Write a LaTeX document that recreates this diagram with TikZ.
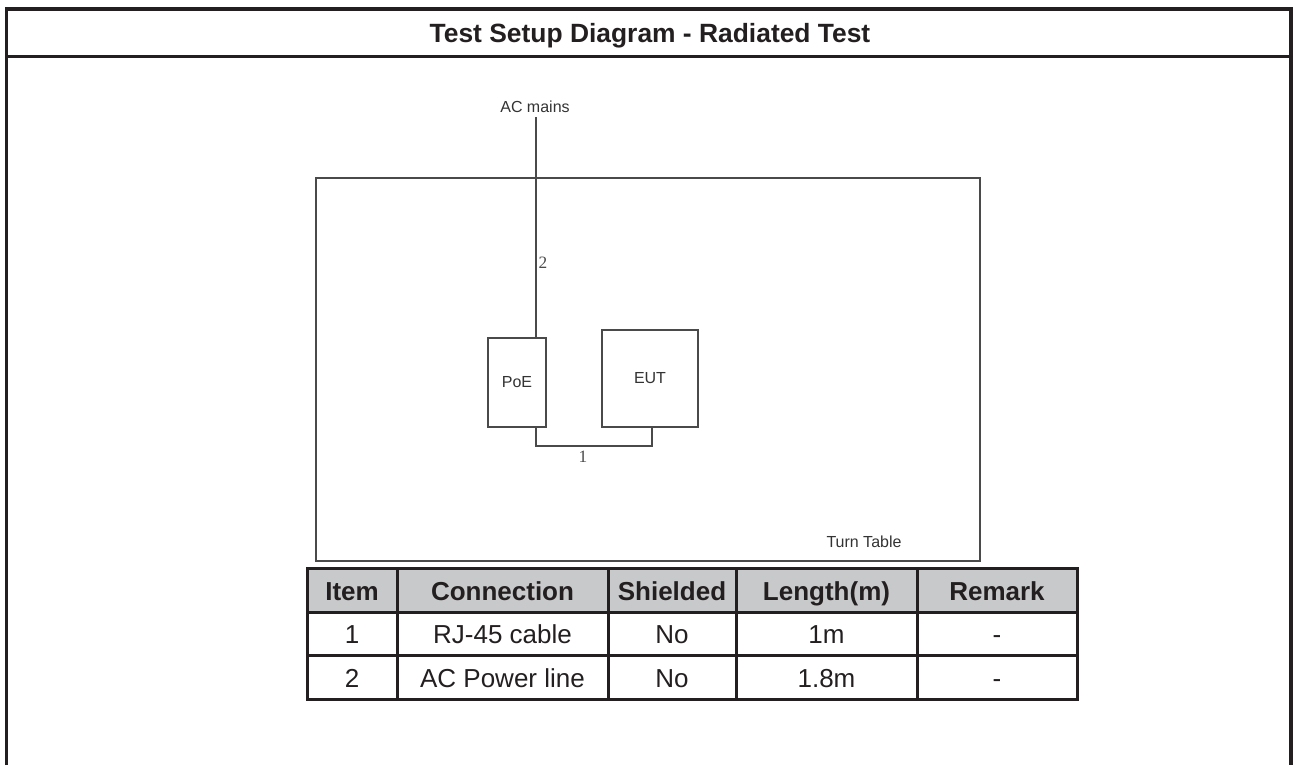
\documentclass[tikz,border=0pt]{standalone}
\usepackage{fontspec}
\setmainfont{Liberation Sans}
\newfontfamily\serifdigits{Liberation Serif}
\definecolor{framec}{HTML}{231F20}
\definecolor{hdrc}{HTML}{C8C9CB}
\definecolor{dlinec}{HTML}{4A4A4A}
\definecolor{dtextc}{HTML}{333333}
\begin{document}
\begin{tikzpicture}[x=0.75pt,y=-0.75pt,
  frameline/.style={draw=framec,line width=2.25pt},
  thinline/.style={draw=dlinec,line width=0.8pt},
  boxnode/.style={thinline,rectangle,inner sep=0pt},
  smalltext/.style={font=\fontsize{12}{14}\selectfont,text=dtextc},
  cellnode/.style={font=\fontsize{19.5}{22}\selectfont,text=framec,inner sep=0pt,anchor=base},
  hcellnode/.style={font=\bfseries\fontsize{19.5}{22}\selectfont,text=framec,inner sep=0pt,anchor=base},
  numtext/.style={font=\serifdigits\fontsize{13}{14}\selectfont,text=dlinec,inner sep=1pt}]
\useasboundingbox (0,0) rectangle (1293,765);
% outer frame
\draw[frameline,line width=2.4pt] (6.5,765) -- (6.5,9) -- (1291,9) -- (1291,765);
\draw[framec,line width=1.9pt] (6.5,56.5) -- (1291,56.5);
\node[font=\bfseries\fontsize{19.8}{22}\selectfont,text=framec,anchor=base,inner sep=0pt] (title) at (650,42) {Test Setup Diagram - Radiated Test};
% turn table
\node[boxnode,minimum width=498pt,minimum height=287.25pt] (tt) at (648,369.5) {};
\node[smalltext,anchor=base,inner sep=0pt] (ttl) at (864,547) {Turn Table};
% AC mains
\node[smalltext,anchor=base,inner sep=0pt] (ac) at (535,112) {AC mains};
\coordinate (actop) at (536,117);
% devices
\node[boxnode,smalltext,minimum width=43.5pt,minimum height=66.75pt] (poe) at (517,382.5) {PoE};
\node[boxnode,smalltext,minimum width=72pt,minimum height=72.75pt] (eut) at (650,378.5) {EUT};
\draw[thinline] (actop) -- (actop |- poe.north);
\coordinate (c1) at (652,446);
\draw[thinline] (actop |- poe.south) |- (c1) -- (c1 |- eut.south);
\node[numtext,anchor=west] (l2) at (537,263) {2};
\node[numtext] (l1) at (583,457) {1};
% table
\fill[hdrc] (307,568) rectangle (1077,612);
\foreach \yy in {612,655} {\draw[frameline] (307,\yy) -- (1077,\yy);}
\foreach \xx in {397,608,736,917} {\draw[frameline] (\xx,568) -- (\xx,699);}
\draw[frameline] (307,568) rectangle (1077,699);
\node[hcellnode] (h1) at (352,600) {Item};
\node[hcellnode] (h2) at (502.5,600) {Connection};
\node[hcellnode] (h3) at (672,600) {Shielded};
\node[hcellnode] (h4) at (826.5,600) {Length(m)};
\node[hcellnode] (h5) at (997,600) {Remark};
\node[cellnode] (a1) at (352,643.5) {1};
\node[cellnode] (a2) at (502.5,643.5) {RJ-45 cable};
\node[cellnode] (a3) at (672,643.5) {No};
\node[cellnode] (a4) at (826.5,643.5) {1m};
\node[cellnode] (a5) at (997,643.5) {-};
\node[cellnode] (b1) at (352,687) {2};
\node[cellnode] (b2) at (502.5,687) {AC Power line};
\node[cellnode] (b3) at (672,687) {No};
\node[cellnode] (b4) at (826.5,687) {1.8m};
\node[cellnode] (b5) at (997,687) {-};
\end{tikzpicture}
\end{document}
